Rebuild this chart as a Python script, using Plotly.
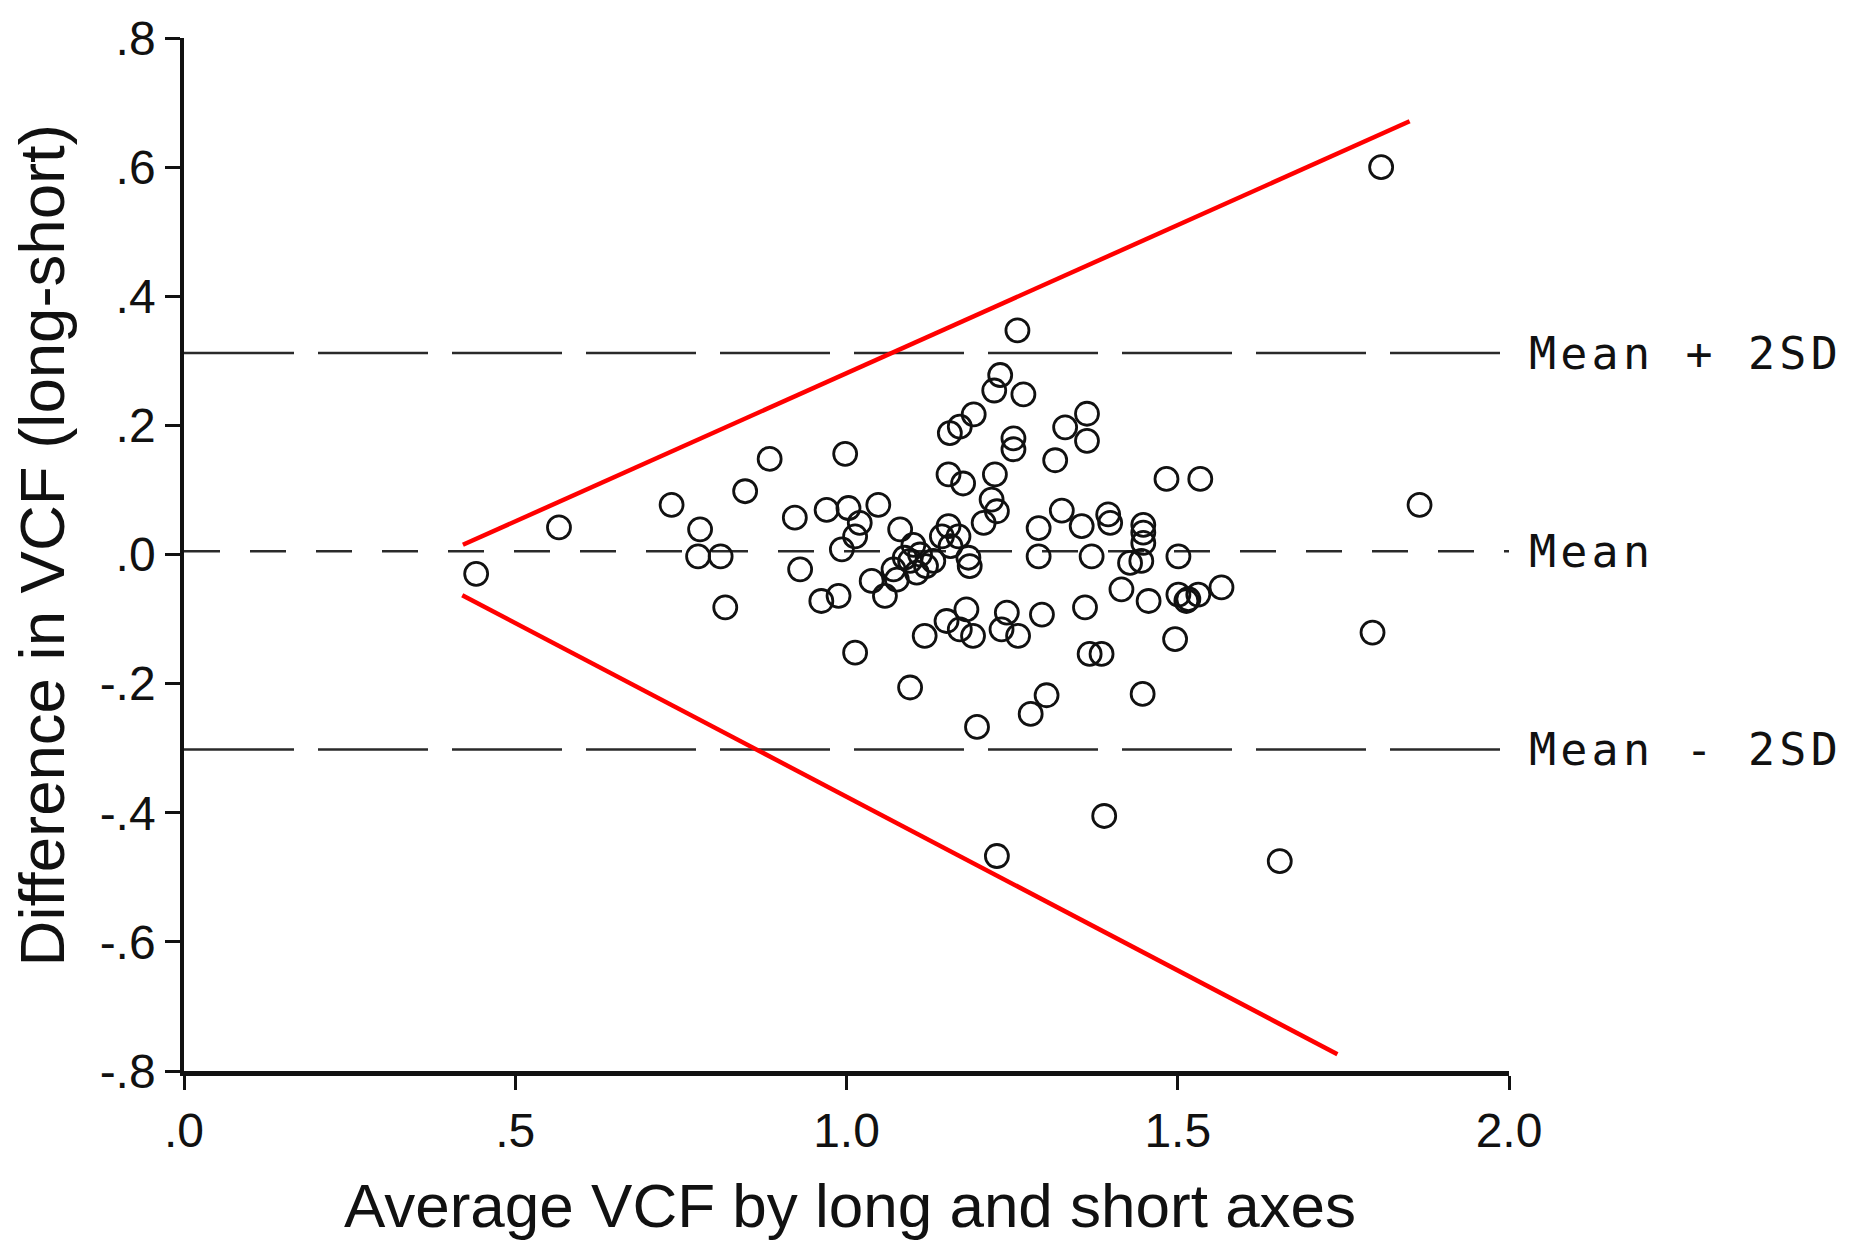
import plotly.graph_objects as go

# Bland-Altman style comparison of VCF measured by long and short axes
avg_vcf = [
    0.441, 0.566, 0.736, 0.779, 0.776, 0.810, 0.817, 0.847, 0.884, 0.922,
    0.930, 0.970, 0.962, 0.988, 0.998, 1.003, 0.993, 1.013, 1.020, 1.048,
    1.013, 1.081, 1.101, 1.111, 1.131, 1.096, 1.071, 1.106, 1.038, 1.076,
    1.058, 1.144, 1.169, 1.157, 1.184, 1.186, 1.207, 1.227, 1.219, 1.176,
    1.154, 1.224, 1.096, 1.181, 1.151, 1.118, 1.171, 1.191, 1.242, 1.234,
    1.259, 1.295, 1.197, 1.278, 1.302, 1.290, 1.290, 1.325, 1.355, 1.395,
    1.398, 1.370, 1.448, 1.448, 1.448, 1.428, 1.445, 1.501, 1.415, 1.456,
    1.501, 1.516, 1.531, 1.566, 1.360, 1.496, 1.367, 1.385, 1.447, 1.483,
    1.534, 1.315, 1.330, 1.363, 1.363, 1.252, 1.252, 1.192, 1.171, 1.156,
    1.223, 1.267, 1.232, 1.258, 1.807, 1.865, 1.794, 1.389, 1.227, 1.654,
    1.513, 1.120, 1.088, 1.154,
]
diff_vcf = [
    -0.030, 0.042, 0.077, 0.039, -0.003, -0.003, -0.082, 0.098, 0.148, 0.057,
    -0.023, 0.069, -0.072, -0.064, 0.156, 0.072, 0.008, 0.028, 0.049, 0.077,
    -0.152, 0.039, 0.015, 0.000, -0.010, -0.010, -0.023, -0.028, -0.041, -0.039,
    -0.064, 0.028, 0.028, 0.013, -0.005, -0.018, 0.049, 0.067, 0.085, 0.110,
    0.124, 0.124, -0.206, -0.085, -0.103, -0.126, -0.116, -0.126, -0.090, -0.116,
    -0.126, -0.093, -0.267, -0.247, -0.218, 0.041, -0.003, 0.068, 0.044, 0.062,
    0.049, -0.003, 0.046, 0.034, 0.018, -0.013, -0.010, -0.003, -0.054, -0.072,
    -0.062, -0.069, -0.062, -0.051, -0.082, -0.131, -0.154, -0.154, -0.216, 0.117,
    0.117, 0.146, 0.197, 0.218, 0.176, 0.180, 0.163, 0.217, 0.198, 0.188,
    0.254, 0.248, 0.278, 0.347, 0.600, 0.077, -0.121, -0.405, -0.467, -0.475,
    -0.072, -0.018, -0.005, 0.044,
]

# Mean difference and limits of agreement
mean_diff = 0.005
upper_limit = 0.312
lower_limit = -0.302
limit_span = [0.0, 2.0]

# Widening envelope drawn over the scatter
upper_env_x = [0.421, 1.850]
upper_env_y = [0.015, 0.671]
lower_env_x = [0.420, 1.741]
lower_env_y = [-0.063, -0.774]

x_ticks = [0.0, 0.5, 1.0, 1.5, 2.0]
x_tick_text = [".0", ".5", "1.0", "1.5", "2.0"]
y_ticks = [-0.8, -0.6, -0.4, -0.2, 0.0, 0.2, 0.4, 0.6, 0.8]
y_tick_text = ["-.8", "-.6", "-.4", "-.2", ".0", ".2", ".4", ".6", ".8"]

SANS = "Liberation Sans, Arial, sans-serif"
MONO = "DejaVu Sans Mono, monospace"

fig = go.Figure()

for level, dash in [(upper_limit, "110px,24px"), (mean_diff, "36px,30px"), (lower_limit, "110px,24px")]:
    fig.add_trace(go.Scatter(
        x=limit_span, y=[level, level], mode="lines",
        line=dict(color="#2a2a2a", width=2.6, dash=dash),
        hoverinfo="skip", showlegend=False,
    ))

fig.add_trace(go.Scatter(
    x=avg_vcf, y=diff_vcf, mode="markers",
    marker=dict(symbol="circle-open", size=23, color="#111111", line=dict(width=2.8, color="#111111")),
    showlegend=False, cliponaxis=False,
))

for ex, ey in [(upper_env_x, upper_env_y), (lower_env_x, lower_env_y)]:
    fig.add_trace(go.Scatter(
        x=ex, y=ey, mode="lines", line=dict(color="#ff0000", width=4.5),
        hoverinfo="skip", showlegend=False,
    ))

label_font = dict(family=MONO, size=45, color="#111111")
for level, text in [(upper_limit, "Mean + 2SD"), (mean_diff, "Mean"), (lower_limit, "Mean - 2SD")]:
    fig.add_annotation(
        x=1.0136, xref="paper", y=level, yref="y",
        text=f'<span style="letter-spacing:4.2px">{text}</span>',
        showarrow=False, xanchor="left", yanchor="middle", font=label_font,
    )

fig.add_annotation(
    x=0.5026, xref="paper", y=-0.1306, yref="paper",
    text="Average VCF by long and short axes", showarrow=False,
    xanchor="center", yanchor="middle", font=dict(family=SANS, size=62, color="#111111"),
)
fig.add_annotation(
    x=-0.1075, xref="paper", y=0.5084, yref="paper",
    text="Difference in VCF (long-short)", showarrow=False, textangle=-90,
    xanchor="center", yanchor="middle", font=dict(family=SANS, size=63.5, color="#111111"),
)

axis_common = dict(
    showgrid=False, zeroline=False, showline=True, linecolor="#111111",
    ticks="outside", tickcolor="#111111", tickwidth=3,
    tickfont=dict(family=SANS, size=48, color="#111111"),
)

fig.update_xaxes(range=[0, 2.0], tickvals=x_ticks, ticktext=x_tick_text,
                 linewidth=4.5, ticklen=14, **axis_common)
fig.update_yaxes(range=[-0.8, 0.8], tickvals=y_ticks, ticktext=y_tick_text,
                 linewidth=3.5, ticklen=15, **axis_common)

fig.update_layout(
    width=1861, height=1241,
    margin=dict(l=184, r=352, t=33, b=170),
    paper_bgcolor="white", plot_bgcolor="white",
    showlegend=False,
)

fig.write_html("out.html")
